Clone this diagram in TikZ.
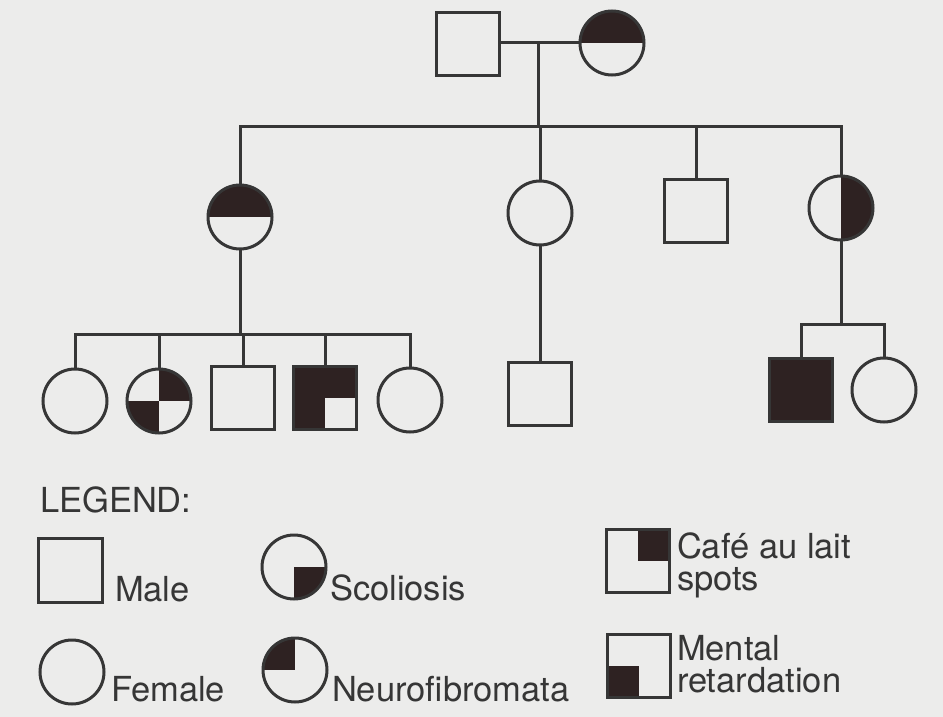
\documentclass[tikz,border=0pt]{standalone}
\usepackage{fontspec}
\setmainfont{TeX Gyre Heros}
\definecolor{paper}{HTML}{ECECEB}
\definecolor{ink}{HTML}{363636}
\definecolor{blot}{HTML}{2E2222}
\begin{document}
\begin{tikzpicture}[x=1pt,y=-1pt,line width=3pt,draw=ink,
  every node/.style={inner sep=0pt,outer sep=0pt},
  male/.style={rectangle,draw=ink,fill=paper,minimum size=63pt},
  female/.style={circle,draw=ink,fill=paper,minimum size=64pt},
  % quadrants to shade, named by their outer corner
  quad/.style={path picture={\foreach \c in {#1}{\fill[blot] (path picture bounding box.center) rectangle (path picture bounding box.\c);}}},
  legtext/.style={anchor=base west,text=ink,font=\fontsize{34.5}{31}\selectfont}]
\fill[paper] (0,0) rectangle (943,717);
\useasboundingbox (0,0) rectangle (943,717);

% generation I
\node[male] (I1) at (468,44) {};
\node[female,quad={north east,north west}] (I2) at (612,43) {};
\coordinate (m1) at (538,43);
\coordinate (s2) at (538,126);
\draw (I1.east |- m1) -- (I2.west);
\draw (m1) -- (s2);

% generation II
\node[female,quad={north east,north west}] (II1) at (240,217) {};
\node[female] (II2) at (540,213) {};
\node[male] (II3) at (696,211) {};
\node[female,quad={north east,south east}] (II4) at (841,208) {};
\draw (II1.north) |- (s2) -| (II4.north);
\draw (II2.north) -- (II2.north |- s2);
\draw (II3.north) -- (II3.north |- s2);

% generation III, children of II1
\coordinate (s3a) at (240,334);
\node[female] (III1) at (75,401) {};
\node[female,quad={north east,south west}] (III2) at (159,401) {};
\node[male] (III3) at (243,398) {};
\node[male,quad={north east,north west,south west}] (III4) at (325,398) {};
\node[female] (III5) at (410,400) {};
\draw (II1.south) -- (s3a);
\draw (III1.north) |- (s3a) -| (III5.north);
\draw (III2.north) -- (III2.north |- s3a);
\draw (III3.north) -- (III3.north |- s3a);
\draw (III4.north) -- (III4.north |- s3a);

% generation III, child of II2
\node[male] (III6) at (540,394) {};
\draw (II2.south) -- (III6.north);

% generation III, children of II4
\coordinate (s3c) at (841,324);
\node[male,fill=blot] (III7) at (801,390) {};
\node[female] (III8) at (884,390) {};
\draw (II4.south) -- (s3c);
\draw (III7.north) |- (s3c) -| (III8.north);

% legend
\node[legtext] (lg) at (40,512) {LEGEND:};
\node[male,minimum size=64pt] (Lm) at (70,570) {};
\node[legtext] (tm) at (115,601) {Male};
\node[female] (Lf) at (72,672) {};
\node[legtext] (tf) at (111,701) {Female};
\node[female,quad={south east}] (Ls) at (294,567) {};
\node[legtext] (ts) at (330,600) {Scoliosis};
\node[female,quad={north west}] (Ln) at (295,670) {};
\node[legtext] (tn) at (332,701) {Neurofibromata};
\node[male,quad={north east}] (Lc) at (638,561) {};
\node[legtext] (tc1) at (677,558) {Café au lait};
\node[legtext] (tc2) at (677,590) {spots};
\node[male,quad={south west}] (Lr) at (639,666) {};
\node[legtext] (tr1) at (677,660) {Mental};
\node[legtext] (tr2) at (677,692) {retardation};
\end{tikzpicture}
\end{document}
